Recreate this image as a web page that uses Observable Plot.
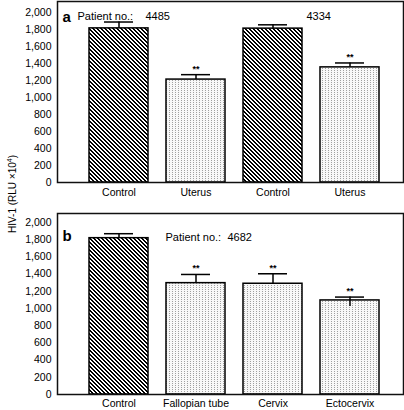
<!DOCTYPE html>
<html><head><meta charset="utf-8">
<script src="https://cdn.jsdelivr.net/npm/d3@7"></script>
<script src="https://cdn.jsdelivr.net/npm/@observablehq/plot@0.6"></script>
<style>
body{margin:0;background:#fff;}
#wrap{position:relative;width:404px;height:410px;font-family:"Liberation Sans",Arial,sans-serif;color:#000;}
#wrap svg{display:block;}
#ylab{position:absolute;left:12px;top:194px;transform:translate(-50%,-50%) rotate(-90deg);font-size:10px;white-space:nowrap;}
#ylab sup{font-size:7px;vertical-align:4px;line-height:0;}
</style></head><body>
<div id="wrap"><div id="ylab">HIV-1 (RLU ×10<sup>4</sup>)</div></div>
<script>
// ---- data ----
const yTickValues = [0, 200, 400, 600, 800, 1000, 1200, 1400, 1600, 1800, 2000];

const aCategories = ["Control", "Uterus", "Control", "Uterus"];
const aPatients = ["4485", "4485", "4334", "4334"];
const aValues = [1818, 1214, 1815, 1358];
const aErrors = [75, 58, 45, 52];
const aErrorsLow = [0, 0, 0, 0];
const aSignif = ["", "**", "", "**"];

const bCategories = ["Control", "Fallopian tube", "Cervix", "Ectocervix"];
const bPatients = ["4682", "4682", "4682", "4682"];
const bValues = [1818, 1295, 1288, 1094];
const bErrors = [52, 101, 116, 39];
const bErrorsLow = [0, 0, 0, 70];
const bSignif = ["", "**", "**", "**"];

const panelLabels = ["a", "b"];
const patientText = "Patient no.:";

function rows(cats, vals, errs, lows, sigs, pats, id) {
  return cats.map((c, i) => ({
    key: i, label: c, value: vals[i], err: errs[i], errLow: lows[i], sig: sigs[i], patient: pats[i],
    fill: c === "Control" ? `url(#hatch${id})` : `url(#dots${id})`
  }));
}

function addDefs(svg, id) {
  const defs = d3.select(svg).insert("defs", ":first-child");
  const h = defs.append("pattern").attr("id", "hatch" + id).attr("patternUnits", "userSpaceOnUse")
    .attr("width", 4).attr("height", 4);
  h.append("rect").attr("width", 4).attr("height", 4).attr("fill", "#fff");
  [[0,0,2],[1,1,2],[2,2,2],[3,3,1],[0,3,1]].forEach(([x,y,w]) =>
    h.append("rect").attr("x", x).attr("y", y).attr("width", w).attr("height", 1).attr("fill", "#000").attr("shape-rendering", "crispEdges"));
  const d = defs.append("pattern").attr("id", "dots" + id).attr("patternUnits", "userSpaceOnUse")
    .attr("width", 3).attr("height", 2);
  d.append("rect").attr("width", 3).attr("height", 2).attr("fill", "#f8f8f8");
  d.append("rect").attr("x", 1).attr("y", 0).attr("width", 1).attr("height", 1).attr("fill", "#a0a0a0").attr("shape-rendering", "crispEdges");
}

const fmt = d3.format(",");

function panel(data, cfg) {
  const svg = Plot.plot({
    width: 404, height: 205,
    marginLeft: 57, marginRight: 1, marginTop: cfg.marginTop, marginBottom: cfg.marginBottom,
    style: {fontSize: "10.5px", fontFamily: "'Liberation Sans', Arial, sans-serif", color: "#000", background: "#fff"},
    x: {type: "band", domain: data.map(d => d.key), tickFormat: i => data[i].label, tickSize: 0, tickPadding: cfg.xPad,
        paddingInner: 0.2308, paddingOuter: 0, align: 0.5, insetLeft: 31, insetRight: 22, label: null},
    y: {domain: [0, cfg.yMax], ticks: yTickValues, tickFormat: fmt, tickSize: 0, tickPadding: 6, label: null},
    color: {type: "identity"},
    marks: [
      Plot.barY(data, {x: "key", y: "value", fill: "fill", stroke: "#000", strokeWidth: 1.5}),
      Plot.ruleX(data, {x: "key", y1: "value", y2: d => d.value + d.err, stroke: "#000", strokeWidth: 1.5}),
      Plot.ruleX(data.filter(d => d.errLow > 0), {x: "key", y1: d => d.value - d.errLow, y2: "value", stroke: "#000", strokeWidth: 1.5}),
      Plot.tickY(data, {x: "key", y: d => d.value + d.err, insetLeft: 15, insetRight: 15, stroke: "#000", strokeWidth: 1.5}),
      Plot.text(data.filter(d => d.sig), {x: "key", y: d => d.value + d.err, text: "sig", dy: -6, fontSize: 9, fontWeight: "bold"}),
      Plot.frame({stroke: "#111", strokeWidth: 1.5}),
      Plot.text([cfg.letter], {frameAnchor: "top-left", dx: 5, dy: cfg.letterDy, text: d => d, fontSize: 15, fontWeight: "bold", textAnchor: "start"}),
      ...cfg.notes.map(n => Plot.text([n.text], {frameAnchor: "top-left", dx: n.dx, dy: n.dy, text: d => d, fontSize: 11, textAnchor: "start"}))
    ]
  });
  addDefs(svg, cfg.id);
  return svg;
}

const wrap = document.getElementById("wrap");
const dataA = rows(aCategories, aValues, aErrors, aErrorsLow, aSignif, aPatients, "A");
const dataB = rows(bCategories, bValues, bErrors, bErrorsLow, bSignif, bPatients, "B");

wrap.appendChild(panel(dataA, {
  id: "A", marginTop: 1, marginBottom: 23, xPad: 6, yMax: 2135, letter: panelLabels[0], letterDy: 10,
  notes: [
    {text: patientText, dx: 20, dy: 10.5},
    {text: aPatients[0], dx: 88, dy: 10.5},
    {text: aPatients[2], dx: 249, dy: 10.5}
  ]
}));
wrap.appendChild(panel(dataB, {
  id: "B", marginTop: 8, marginBottom: 16, xPad: 5, yMax: 2105, letter: panelLabels[1], letterDy: 17,
  notes: [
    {text: patientText, dx: 108, dy: 19.5},
    {text: bPatients[0], dx: 170, dy: 19.5}
  ]
}));
</script>
</body></html>
